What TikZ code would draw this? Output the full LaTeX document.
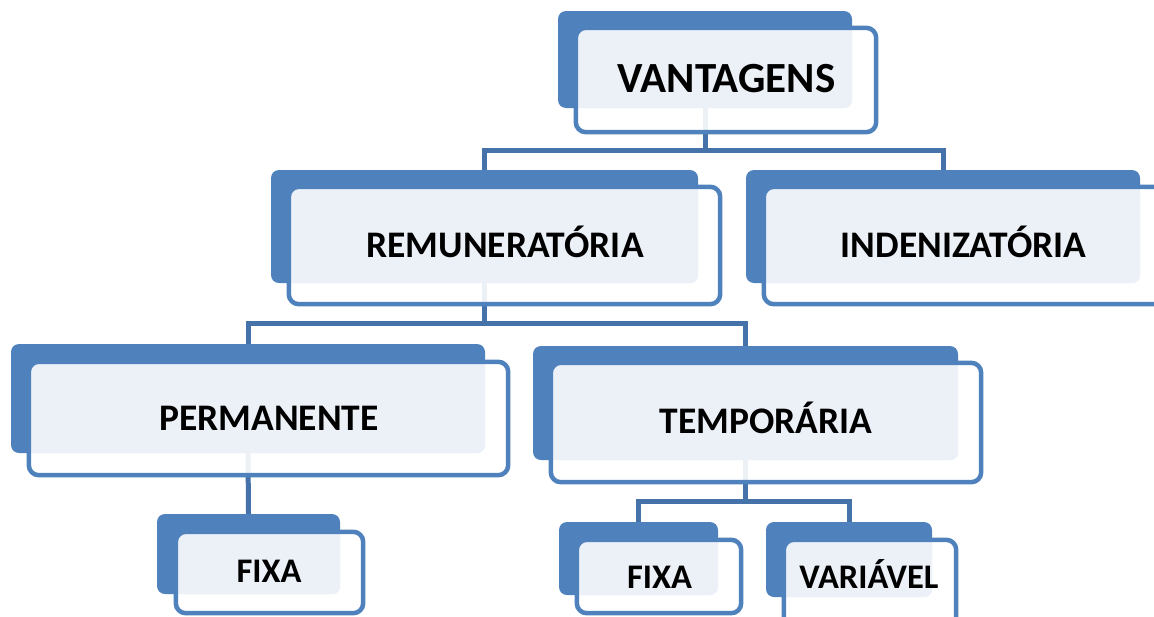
\documentclass[tikz,border=0pt]{standalone}
\usepackage{fontspec}
\setmainfont{Carlito}
\definecolor{blueA}{HTML}{4F81BD}
\definecolor{connA}{HTML}{4672AA}
\definecolor{lightA}{HTML}{ECF1F8}
\tikzset{
  backbox/.style={fill=blueA, draw=none, rounded corners=8pt, inner sep=0pt},
  frontbox/.style={fill=white, fill opacity=0.9, draw=none, rounded corners=10pt, inner sep=0pt},
  frontline/.style={draw=blueA, line width=4.5pt, rounded corners=10pt},
  overlay/.style={fill=lightA, rounded corners=8pt},
  conn/.style={draw=connA, line width=5pt},
  lbl/.style={text=black, inner sep=0pt, anchor=base},
  big/.style={lbl, font=\bfseries\fontsize{43}{47}\selectfont},
  mid/.style={lbl, font=\bfseries\fontsize{37.5}{41}\selectfont},
  small/.style={lbl, font=\bfseries\fontsize{34.5}{38}\selectfont},
}
\newcommand\mkfront[1]{%
  \begin{scope}
    \clip[rounded corners=8pt] ([shift={(2.25pt,-2.25pt)}]#1F.north west) rectangle ([shift={(-2.25pt,2.25pt)}]#1F.south east);
    \fill[overlay] (#1B.north west) rectangle (#1B.south east);
  \end{scope}
  \draw[frontline] (#1F.north west) rectangle (#1F.south east);
}
\begin{document}
\begin{tikzpicture}[x=1pt, y=-1pt]
\useasboundingbox (0,0) rectangle (1154,616);
% back boxes (drawn first)
\node[backbox, minimum width=294pt, minimum height=97pt] (vB) at (705,59.5) {};
\node[backbox, minimum width=427pt, minimum height=113pt] (rB) at (484.5,226.5) {};
\node[backbox, minimum width=394pt, minimum height=113pt] (iB) at (943,226.5) {};
\node[backbox, minimum width=474pt, minimum height=109pt] (pB) at (248,398.5) {};
\node[backbox, minimum width=425pt, minimum height=114pt] (tB) at (745.5,403) {};
\node[backbox, minimum width=183pt, minimum height=80pt] (faB) at (248.5,554) {};
\node[backbox, minimum width=159pt, minimum height=73pt] (fbB) at (638.5,558.5) {};
\node[backbox, minimum width=166pt, minimum height=75pt] (vaB) at (849,559.5) {};
% connectors
\draw[conn] (vB.south) -- ++(0,42) -| (rB.north);
\draw[conn] (vB.south) -- ++(0,42) -| (iB.north);
\draw[conn] (rB.south) -- ++(0,40) -| (pB.north);
\draw[conn] (rB.south) -- ++(0,40) -| (tB.north);
\draw[conn] (pB.south) -- (faB.north);
\draw[conn] (tB.south) -- ++(0,41) -| (fbB.north);
\draw[conn] (tB.south) -- ++(0,41) -| (vaB.north);
% front boxes
\node[frontbox, minimum width=300pt, minimum height=104pt] (vF) at (726,80) {};
\node[frontbox, minimum width=431pt, minimum height=117pt] (rF) at (504.5,245.5) {};
\node[frontbox, minimum width=406pt, minimum height=117pt] (iF) at (967,245.5) {};
\node[frontbox, minimum width=479pt, minimum height=113pt] (pF) at (268.5,418.5) {};
\node[frontbox, minimum width=430pt, minimum height=119pt] (tF) at (766,422.5) {};
\node[frontbox, minimum width=187pt, minimum height=81pt] (faF) at (269.5,572.5) {};
\node[frontbox, minimum width=164pt, minimum height=73pt] (fbF) at (659,576.5) {};
\node[frontbox, minimum width=172pt, minimum height=88pt] (vaF) at (870,584) {};
\mkfront{v}\mkfront{r}\mkfront{i}\mkfront{p}\mkfront{t}\mkfront{fa}\mkfront{fb}\mkfront{va}
% labels
\node[big] (vT) at (726.5,92) {VANTAGENS};
\node[mid] (rT) at (505,257) {REMUNERATÓRIA};
\node[mid] (iT) at (963.5,257) {INDENIZATÓRIA};
\node[mid] (pT) at (269,430) {PERMANENTE};
\node[mid] (tT) at (766,433) {TEMPORÁRIA};
\node[small] (faT) at (269,582) {FIXA};
\node[small] (fbT) at (659.5,588) {FIXA};
\node[small] (vaT) at (869,588) {VARIÁVEL};
\end{tikzpicture}
\end{document}
